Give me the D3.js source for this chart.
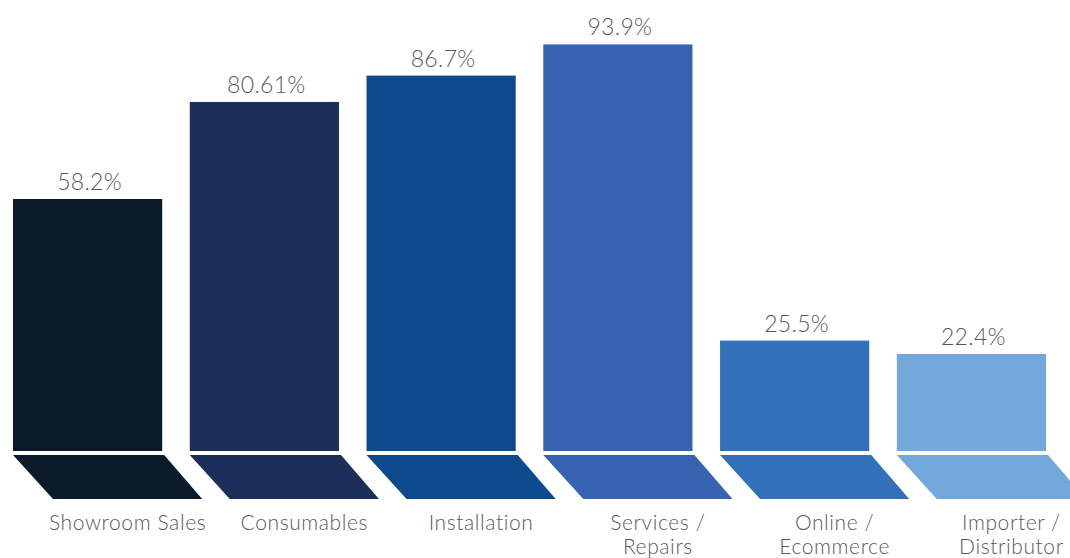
<!DOCTYPE html>
<html>
<head>
<meta charset="utf-8">
<script src="https://cdn.jsdelivr.net/npm/d3@7"></script>
<style>
  html, body { margin: 0; padding: 0; background: #ffffff; }
  svg { display: block; }
</style>
</head>
<body>
<svg id="chart" width="1070" height="558"></svg>
<script>
const categories = ["Showroom Sales", "Consumables", "Installation", "Services / Repairs", "Online / Ecommerce", "Importer / Distributor"];
const labelLines = [["Showroom Sales"], ["Consumables"], ["Installation"], ["Services /", "Repairs"], ["Online /", "Ecommerce"], ["Importer /", "Distributor"]];
const values = [58.2, 80.61, 86.7, 93.9, 25.5, 22.4];
const valueLabels = ["58.2%", "80.61%", "86.7%", "93.9%", "25.5%", "22.4%"];
const colors = ["#0b1a2a", "#1c2f5b", "#0d4a8b", "#3764b0", "#3271b9", "#72a8da"];

const svg = d3.select("#chart");
const baseY = 451;

const x = d3.scaleBand().domain(categories).range([13, 1046]).paddingInner(0.156).paddingOuter(0);
const y = d3.scaleLinear().domain([0, 100]).range([baseY, 18]);

const data = categories.map((c, i) => ({ c, v: values[i], lab: valueLabels[i], col: colors[i], lines: labelLines[i] }));

const g = svg.append("g");

// bars
g.selectAll("rect.bar").data(data).enter().append("rect")
  .attr("class", "bar")
  .attr("x", d => x(d.c))
  .attr("y", d => y(d.v))
  .attr("width", x.bandwidth())
  .attr("height", d => baseY - y(d.v))
  .attr("fill", d => d.col);

// base parallelograms
const pTop = 455, pBot = 499, shift = 38;
g.selectAll("path.base").data(data).enter().append("path")
  .attr("class", "base")
  .attr("d", d => {
    const x0 = x(d.c), x1 = x0 + x.bandwidth();
    return `M${x0},${pTop}L${x1 + 2},${pTop}L${x1 + 2 + shift},${pBot}L${x0 + shift + 2},${pBot}Z`;
  })
  .attr("fill", d => d.col);

// value labels
g.selectAll("text.val").data(data).enter().append("text")
  .attr("class", "val")
  .attr("x", d => x(d.c) + x.bandwidth() / 2 + 2)
  .attr("y", d => y(d.v) - 9)
  .attr("text-anchor", "middle")
  .attr("font-family", "Lato, 'Open Sans', sans-serif")
  .attr("font-weight", 300)
  .attr("font-size", 23)
  .attr("letter-spacing", 0.3)
  .attr("fill", "#565b62")
  .text(d => d.lab);

// category labels
const cat = g.selectAll("text.cat").data(data).enter().append("text")
  .attr("class", "cat")
  .attr("x", d => x(d.c) + x.bandwidth() / 2 + 40)
  .attr("y", 530)
  .attr("text-anchor", "middle")
  .attr("font-family", "Lato, 'Open Sans', sans-serif")
  .attr("font-weight", 300)
  .attr("font-size", 21)
  .attr("letter-spacing", 0.6)
  .attr("fill", "#565b62");
cat.selectAll("tspan").data(d => d.lines.map(l => ({ l, cx: x(d.c) + x.bandwidth() / 2 + 40 }))).enter().append("tspan")
  .attr("x", t => t.cx)
  .attr("dy", (t, i) => i === 0 ? 0 : 24)
  .text(t => t.l);
</script>
</body>
</html>
